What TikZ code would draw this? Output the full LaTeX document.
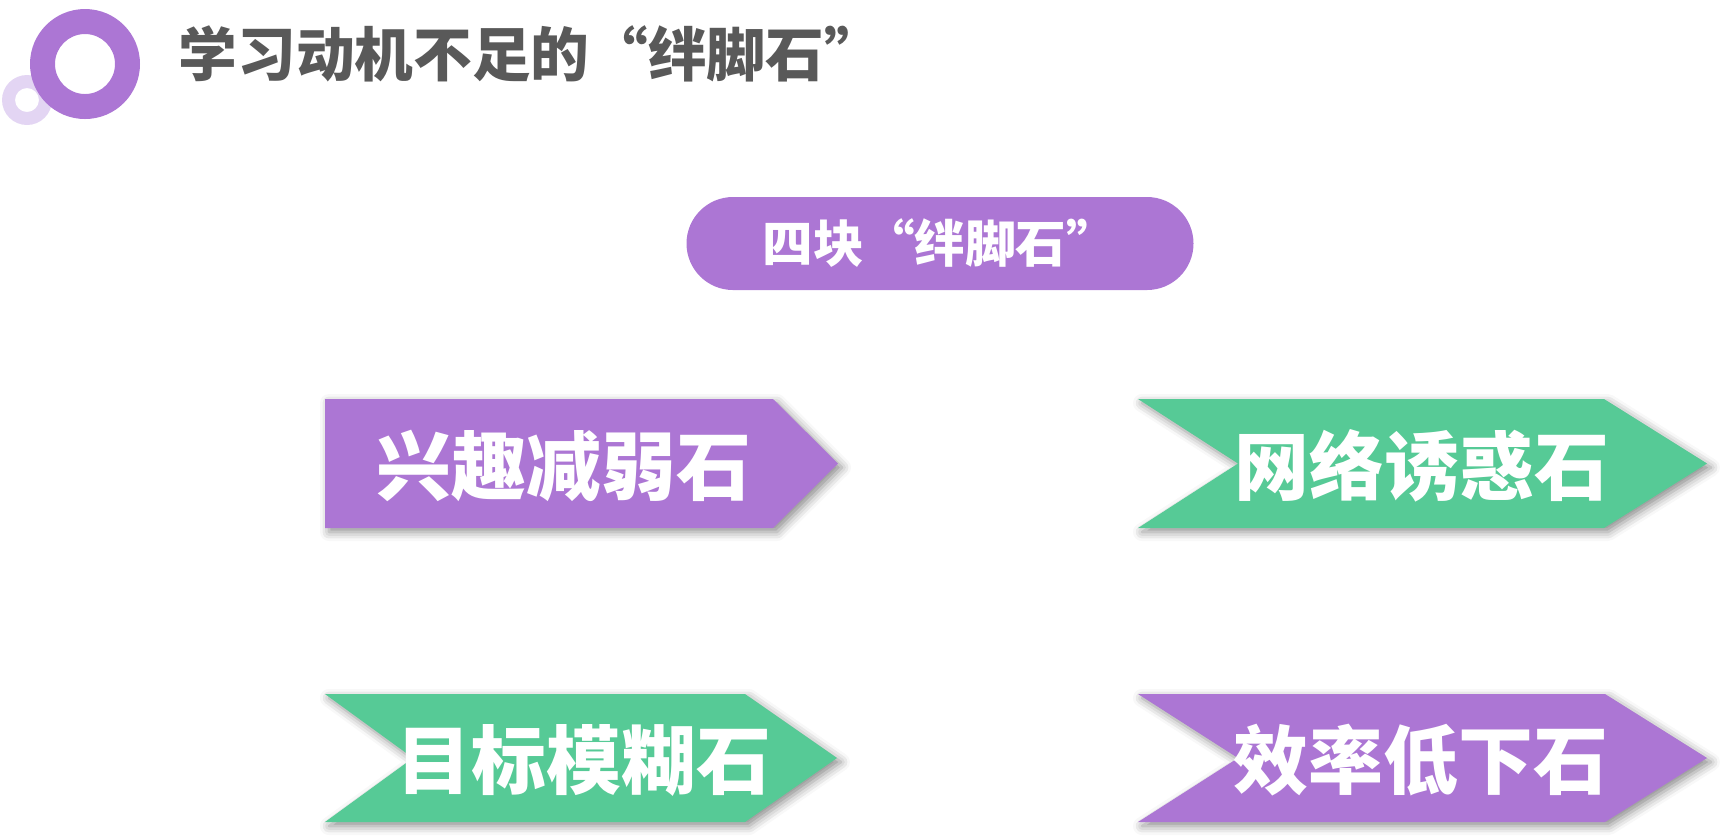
\documentclass[tikz,border=0pt]{standalone}
\usepackage{fontspec}
\newfontfamily\cjk{Noto Sans CJK SC}
\usetikzlibrary{shadows.blur}
\definecolor{stonepurple}{HTML}{AC76D4}
\definecolor{stonegreen}{HTML}{56CA96}
\definecolor{ringlight}{HTML}{E3D5F3}
\definecolor{titlegrey}{HTML}{595959}

\begin{document}
\begin{tikzpicture}[every node/.style={inner sep=0pt, font=\cjk\bfseries},
  stoneshadow/.style={blur shadow={shadow xshift=0.4mm, shadow yshift=-0.4mm, shadow blur radius=0.9mm, shadow opacity=45}},
  stonetext/.style={text=white, font=\cjk\bfseries\fontsize{21.3}{24}\selectfont}]
  \useasboundingbox (0,0) rectangle (17.24,-8.36);
  % rings in the corner
  \fill[ringlight, even odd rule] (0.27,-1.00) circle (0.25) (0.27,-1.00) circle (0.12);
  \fill[stonepurple, even odd rule] (0.85,-0.64) circle (0.55) (0.85,-0.64) circle (0.30);
  \node[anchor=west, text=titlegrey, font=\cjk\bfseries\fontsize{16.7}{19}\selectfont] (title) at (1.78,-0.535) {学习动机不足的“绊脚石”};
  % header pill
  \node[fill=stonepurple, rounded corners=0.465cm, minimum width=5.07cm, minimum height=0.93cm, text=white, font=\cjk\bfseries\fontsize{14.4}{17}\selectfont] (fourstones) at (9.40,-2.435) {四块“绊脚石”};
  % the four stones
  \fill[stonepurple, stoneshadow] (3.25,-3.99) -- (7.73,-3.99) -- (8.38,-4.635) -- (7.73,-5.28) -- (3.25,-5.28) -- cycle;
  \fill[stonegreen, stoneshadow] (11.38,-3.99) -- (16.04,-3.99) -- (17.07,-4.635) -- (16.04,-5.28) -- (11.38,-5.28) -- (12.38,-4.635) -- cycle;
  \fill[stonegreen, stoneshadow] (3.25,-6.94) -- (7.45,-6.94) -- (8.37,-7.58) -- (7.45,-8.22) -- (3.25,-8.22) -- (4.13,-7.58) -- cycle;
  \fill[stonepurple, stoneshadow] (11.38,-6.94) -- (16.05,-6.94) -- (17.07,-7.58) -- (16.05,-8.22) -- (11.38,-8.22) -- (12.38,-7.58) -- cycle;
  \node[stonetext] (interest) at (5.64,-4.66) {兴趣减弱石};
  \node[stonetext] (network) at (14.22,-4.66) {网络诱惑石};
  \node[stonetext] (goal) at (5.84,-7.60) {目标模糊石};
  \node[stonetext] (efficiency) at (14.21,-7.60) {效率低下石};
\end{tikzpicture}
\end{document}
